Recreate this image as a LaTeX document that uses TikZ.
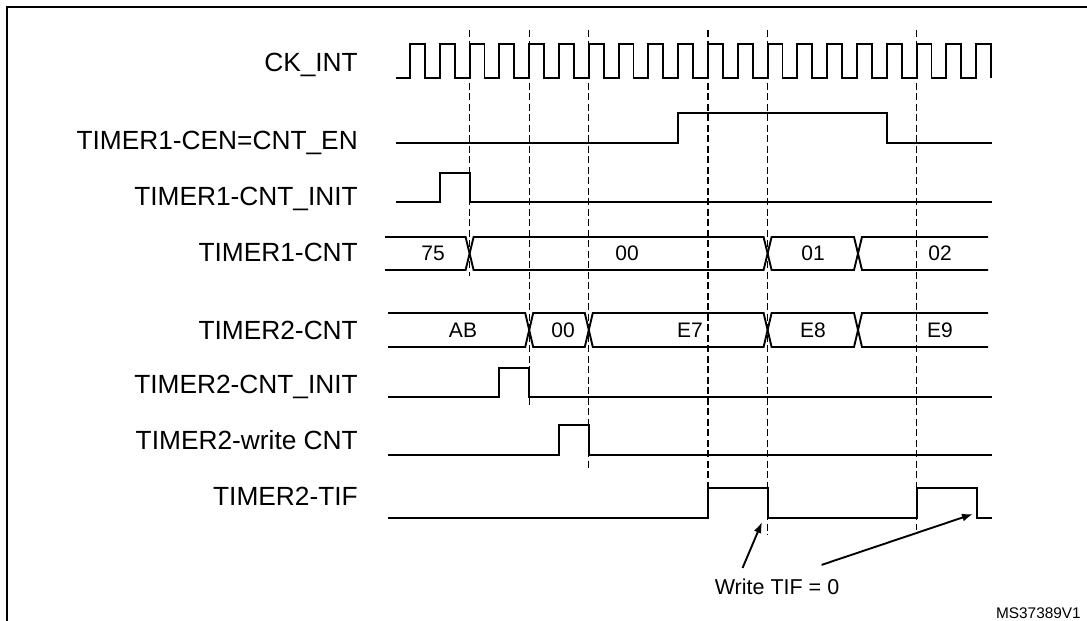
\documentclass[tikz,border=0pt]{standalone}
\usepackage{fontspec}
\setmainfont{Liberation Sans}
\usetikzlibrary{arrows.meta}
\begin{document}
\begin{tikzpicture}[x=1pt,y=-1pt,
  sig/.style={line width=1.9pt,line join=miter},
  grid/.style={line width=1.3pt,dash pattern=on 7pt off 3.5pt},
  lab/.style={anchor=base east,inner sep=0pt,font=\fontsize{26.3}{30}\selectfont},
  bustxt/.style={inner sep=0pt,font=\fontsize{21}{24}\selectfont},
  note/.style={inner sep=0pt,font=\fontsize{21.5}{24}\selectfont},
  arr/.style={line width=1.9pt,-{Latex[length=11pt,width=8pt]}}]
\useasboundingbox (0,0) rectangle (1087,621);
% frame
\draw[line width=2pt] (7,621) -- (7,7) -- (1087,7);
% labels
\node[lab] (lck)   at (358,71.5)  {CK\_INT};
\node[lab] (lcen)  at (358,149.5) {TIMER1-CEN=CNT\_EN};
\node[lab] (li1)   at (358,205.5) {TIMER1-CNT\_INIT};
\node[lab] (lc1)   at (358,261.5) {TIMER1-CNT};
\node[lab] (lc2)   at (358,339.5) {TIMER2-CNT};
\node[lab] (li2)   at (358,393.5) {TIMER2-CNT\_INIT};
\node[lab] (lw2)   at (358,449.5) {TIMER2-write CNT};
\node[lab] (ltif)  at (358,505.5) {TIMER2-TIF};
% dashed time marks
\def\p{29.8}
\draw[grid] (469.6,30) -- (469.6,276);
\draw[grid] (529.2,30) -- (529.2,408);
\draw[grid] (588.8,30) -- (588.8,470);
\draw[grid] (708,30) -- (708,488);
\draw[grid] (767.6,30) -- (767.6,535);
\draw[grid] (916.6,30) -- (916.6,530);
% clock
\draw[sig] (396,78) foreach \k in {0,...,19} {
  -- ({410+\p*\k},78) -- ({410+\p*\k},44) -- ({424.9+\p*\k},44) -- ({424.9+\p*\k},78)};
% CEN
\draw[sig] (396,143) -- (678.2,143) -- (678.2,113) -- (886.8,113) -- (886.8,143) -- (992,143);
% TIMER1-CNT_INIT
\draw[sig] (396,202) -- (439.8,202) -- (439.8,173) -- (469.6,173) -- (469.6,202) -- (992,202);
% TIMER1-CNT bus
\draw[sig] (385,237) -- (465.6,237) -- (473.6,270) -- (763.6,270) -- (771.6,237) -- (854,237) -- (862,270) -- (988,270);
\draw[sig] (385,270) -- (465.6,270) -- (473.6,237) -- (763.6,237) -- (771.6,270) -- (854,270) -- (862,237) -- (988,237);
\node[bustxt] (b75) at (433,253) {75};
\node[bustxt] (b00) at (627,253) {00};
\node[bustxt] (b01) at (813,253) {01};
\node[bustxt] (b02) at (940,253) {02};
% TIMER2-CNT bus
\draw[sig] (388,313) -- (525.2,313) -- (533.2,347) -- (584.8,347) -- (592.8,313) -- (763.6,313) -- (771.6,347) -- (854,347) -- (862,313) -- (988,313);
\draw[sig] (388,347) -- (525.2,347) -- (533.2,313) -- (584.8,313) -- (592.8,347) -- (763.6,347) -- (771.6,313) -- (854,313) -- (862,347) -- (988,347);
\node[bustxt] (bab) at (463,330) {AB};
\node[bustxt] (b200) at (563,330) {00};
\node[bustxt] (be7) at (690,330) {E7};
\node[bustxt] (be8) at (813,330) {E8};
\node[bustxt] (be9) at (940,330) {E9};
% TIMER2-CNT_INIT
\draw[sig] (388,397) -- (499.4,397) -- (499.4,368) -- (529.2,368) -- (529.2,397) -- (992,397);
% TIMER2-write CNT
\draw[sig] (388,455) -- (559,455) -- (559,425) -- (588.8,425) -- (588.8,455) -- (992,455);
% TIMER2-TIF
\draw[sig] (388,518) -- (708,518) -- (708,488) -- (767.6,488) -- (767.6,518) -- (916.6,518) -- (916.6,488) -- (977,488) -- (977,518) -- (992,518);
% annotation
\node[note] (wt) at (777,587) {Write TIF = 0};
\coordinate (tip1) at (762,522);
\coordinate (tip2) at (973,514);
\draw[arr] ([xshift=28pt,yshift=11pt]wt.north west) -- (tip1);
\draw[arr] ([xshift=107pt,yshift=14pt]wt.north west) -- (tip2);
\node[anchor=base east,inner sep=0pt,font=\fontsize{15.4}{17}\selectfont] (ms) at (1081,618) {MS37389V1};
\end{tikzpicture}
\end{document}
